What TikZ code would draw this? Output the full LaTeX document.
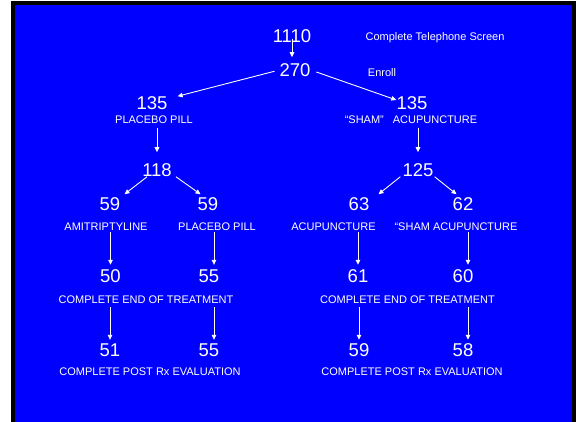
\documentclass[tikz,border=0pt]{standalone}
\usepackage{fontspec}
\setmainfont{Liberation Sans}
\definecolor{slideblue}{RGB}{0, 0, 255}
\definecolor{slideframe}{RGB}{0, 0, 0}
\usetikzlibrary{arrows.meta, positioning, calc}
\tikzset{
  % Large white participant counts.
  count-num/.style={
    inner sep=0pt, text=white,
    font=\fontsize{18.5}{20}\selectfont,
  },
  % Small white captions under / beside the counts.
  arm-label/.style={
    inner sep=0pt, text=white,
    font=\fontsize{11}{13}\selectfont,
  },
  % Thin white arrows.
  flow-white/.style={
    -{Triangle[length=5pt, width=4.5pt]},
    line width=0.9pt,
    draw=white,
  },
}

\begin{document}
\begin{tikzpicture}[x=1pt, y=-1pt]

  % Slide background with dark frame.
  \useasboundingbox (0,0) rectangle (576,422);
  \fill[slideframe] (11,1) rectangle (576,422);
  \fill[slideblue] (15,5) rectangle (572,422);

  % Screening and enrolment.
  \node[count-num] (tot)    at (292,36) {1110};
  \node[arm-label] (totlbl) at (435,38) {Complete Telephone Screen};
  \node[count-num] (enr)    at (295,70) {270};
  \node[arm-label] (enrlbl) at (382,73) {Enroll};

  % First randomisation.
  \node[count-num] (pill)    at (152,103) {135};
  \node[arm-label] (pilllbl) at (154,120) {PLACEBO PILL};
  \node[count-num] (acu)     at (412,103) {135};
  \node[arm-label] (aculbl)  at (411,120) {“SHAM”\hspace{9pt}ACUPUNCTURE};

  \node[count-num] (pillsub) at (157,170) {118};
  \node[count-num] (acusub)  at (418,170) {125};

  % Second randomisation.
  \node[count-num] (ami)    at (110,204)   {59};
  \node[arm-label] (amilbl) at (106,227)   {AMITRIPTYLINE};
  \node[count-num] (plc)    at (208,204)   {59};
  \node[arm-label] (plclbl) at (217,227)   {PLACEBO PILL};
  \node[count-num] (tru)    at (359,204)   {63};
  \node[arm-label] (trulbl) at (333.5,227) {ACUPUNCTURE};
  \node[count-num] (shm)    at (463,204)   {62};
  \node[arm-label] (shmlbl) at (456,227)   {“SHAM ACUPUNCTURE};

  % End of treatment.
  \node[count-num] (amiend) at (110.5,276.5) {50};
  \node[count-num] (plcend) at (209,276.5)   {55};
  \node[count-num] (truend) at (358,276.5)   {61};
  \node[count-num] (shmend) at (463,276.5)   {60};
  \node[arm-label] (endL)   at (146,300)     {COMPLETE END OF TREATMENT};
  \node[arm-label] (endR)   at (407.5,300)   {COMPLETE END OF TREATMENT};

  % Post treatment evaluation.
  \node[count-num] (amipost) at (110,350.5) {51};
  \node[count-num] (plcpost) at (209,350.5) {55};
  \node[count-num] (trupost) at (359,350.5) {59};
  \node[count-num] (shmpost) at (463,350.5) {58};
  \node[arm-label] (postL)   at (150,372)   {COMPLETE POST Rx EVALUATION};
  \node[arm-label] (postR)   at (412,372)   {COMPLETE POST Rx EVALUATION};

  % Screen -> enrol -> two arms.
  \draw[flow-white, shorten <=3pt, shorten >=6pt] (tot.center) -- (tot.center |- enr.north);
  \draw[flow-white, shorten <=5pt] (enr.west) -- ([xshift=10pt]pill.north east);
  \draw[flow-white, shorten <=6pt] (enr.east) -- ([yshift=3pt]acu.west);

  \draw[flow-white, shorten <=4pt, shorten >=11pt] (pilllbl.south -| pillsub.north) -- (pillsub.north);
  \draw[flow-white, shorten <=4pt, shorten >=11pt] (aculbl.south -| acusub.north) -- (acusub.north);

  % Splits into the four sub-arms.
  \draw[flow-white] ([xshift=5pt]pillsub.south west) -- ([xshift=4pt, yshift=3pt]ami.north east);
  \draw[flow-white] ([xshift=4pt]pillsub.south east) -- ([xshift=3pt, yshift=3pt]plc.north west);
  \draw[flow-white] ([xshift=-2pt]acusub.south west) -- ([xshift=9pt, yshift=3pt]tru.north east);
  \draw[flow-white] ([xshift=1pt]acusub.south east)  -- ([xshift=4pt, yshift=3pt]shm.north west);

  % Sub-arm -> end of treatment.
  \draw[flow-white, shorten <=1pt, shorten >=5pt] (amilbl.south -| amiend.north) -- (amiend.north);
  \draw[flow-white, shorten <=1pt, shorten >=5pt] ([xshift=5pt]plcend.north |- plclbl.south) -- ([xshift=5pt]plcend.north);
  \draw[flow-white, shorten <=1pt, shorten >=5pt] (trulbl.south -| truend.north) -- (truend.north);
  \draw[flow-white, shorten <=1pt, shorten >=5pt] ([xshift=5pt]shmend.north |- shmlbl.south) -- ([xshift=5pt]shmend.north);

  % End of treatment -> post Rx evaluation.
  \draw[flow-white, shorten <=3pt, shorten >=4pt] (endL.south -| amipost.north) -- (amipost.north);
  \draw[flow-white, shorten <=3pt, shorten >=4pt] ([xshift=5pt]plcpost.north |- endL.south) -- ([xshift=5pt]plcpost.north);
  \draw[flow-white, shorten <=3pt, shorten >=4pt] (endR.south -| trupost.north) -- (trupost.north);
  \draw[flow-white, shorten <=3pt, shorten >=4pt] ([xshift=5pt]shmpost.north |- endR.south) -- ([xshift=5pt]shmpost.north);

\end{tikzpicture}
\end{document}
